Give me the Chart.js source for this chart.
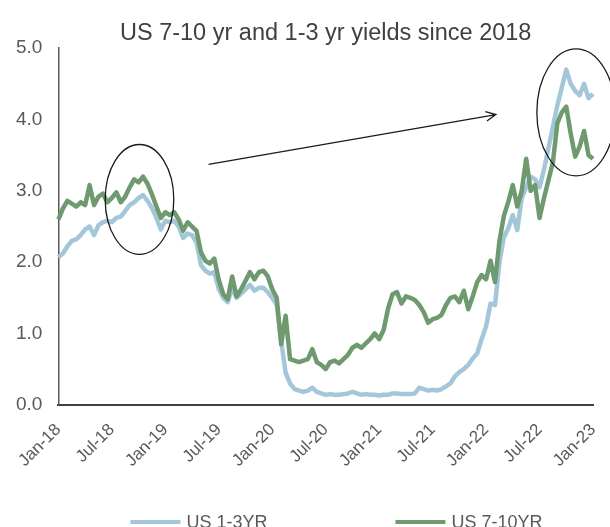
<!DOCTYPE html>
<html>
<head>
<meta charset="utf-8">
<script src="https://cdn.jsdelivr.net/npm/chart.js@4.4.1/dist/chart.umd.min.js"></script>
<style>
  html, body { margin: 0; padding: 0; background: #fff; overflow: hidden; }
</style>
</head>
<body>
<canvas id="yieldChart" width="610" height="527"></canvas>
<script>
// semi-monthly readings, Jan-18 .. Jan-23
const monthNames = ['Jan', 'Feb', 'Mar', 'Apr', 'May', 'Jun', 'Jul', 'Aug', 'Sep', 'Oct', 'Nov', 'Dec'];
const dates = [];
for (let yr = 18; yr <= 22; yr++) {
    for (const mon of monthNames) {
        dates.push(mon + '-' + yr);
        dates.push(mon + '-' + yr);
    }
}
dates.push('Jan-23');

const us13 = [
    2.07, 2.12, 2.22, 2.30, 2.32, 2.38, 2.46, 2.50, 2.38, 2.52, 2.56, 2.58, 2.56, 2.62, 2.64, 2.72, 2.80, 2.84, 2.90, 2.94, 2.86, 2.76, 2.62, 2.46,
    2.58, 2.56, 2.58, 2.50, 2.34, 2.40, 2.38, 2.28, 1.96, 1.88, 1.84, 1.86, 1.62, 1.50, 1.44, 1.64, 1.50, 1.56, 1.62, 1.68, 1.60, 1.64, 1.64, 1.58,
    1.50, 1.40, 0.90, 0.45, 0.30, 0.22, 0.20, 0.18, 0.20, 0.24, 0.18, 0.16, 0.14, 0.15, 0.14, 0.14, 0.15, 0.16, 0.18, 0.16, 0.14, 0.15, 0.14, 0.14,
    0.13, 0.14, 0.14, 0.16, 0.16, 0.15, 0.15, 0.15, 0.16, 0.24, 0.22, 0.20, 0.21, 0.20, 0.22, 0.26, 0.30, 0.40, 0.46, 0.50, 0.56, 0.65, 0.72, 0.92,
    1.10, 1.42, 1.40, 2.00, 2.35, 2.48, 2.66, 2.45, 2.90, 3.05, 3.20, 3.16, 3.05, 3.30, 3.60, 3.90, 4.20, 4.45, 4.70, 4.50, 4.40, 4.34, 4.50, 4.30,
    4.36
];

const us710 = [
    2.60, 2.75, 2.86, 2.82, 2.78, 2.84, 2.80, 3.08, 2.80, 2.92, 2.96, 2.84, 2.90, 2.98, 2.84, 2.92, 3.05, 3.16, 3.12, 3.20, 3.10, 2.95, 2.78, 2.62,
    2.70, 2.66, 2.70, 2.60, 2.44, 2.56, 2.50, 2.44, 2.14, 2.02, 1.98, 2.05, 1.75, 1.55, 1.48, 1.80, 1.52, 1.62, 1.74, 1.86, 1.76, 1.86, 1.88, 1.80,
    1.62, 1.50, 0.85, 1.25, 0.64, 0.62, 0.60, 0.62, 0.64, 0.78, 0.60, 0.56, 0.50, 0.60, 0.62, 0.58, 0.64, 0.70, 0.80, 0.84, 0.80, 0.86, 0.92, 1.00,
    0.92, 1.05, 1.35, 1.55, 1.58, 1.42, 1.52, 1.50, 1.47, 1.40, 1.30, 1.15, 1.20, 1.22, 1.26, 1.40, 1.50, 1.52, 1.44, 1.60, 1.34, 1.52, 1.72, 1.82,
    1.76, 2.02, 1.72, 2.30, 2.65, 2.85, 3.08, 2.78, 3.00, 3.45, 3.00, 3.08, 2.62, 2.90, 3.15, 3.40, 3.95, 4.10, 4.18, 3.80, 3.48, 3.62, 3.84, 3.50,
    3.45
];

const yTicks = [0, 1, 2, 3, 4, 5];

// hand-drawn marks on the original, in data units (x = observation index)
const circles = [
    { x: 18.2, y: 2.88, rx: 7.7, ry: 0.77 },
    { x: 116.2, y: 4.10, rx: 8.8, ry: 0.89 }
];
const arrow = { x0: 33.7, y0: 3.37, x1: 98.2, y1: 4.07 };

const FONT = '"Liberation Sans", Arial, sans-serif';
const TXT = '#595959';

const notesPlugin = {
    id: 'notes',
    afterDatasetsDraw(chart) {
        const { ctx, scales: { x, y } } = chart;
        ctx.save();
        ctx.strokeStyle = '#1a1a1a';
        ctx.lineWidth = 1.3;
        circles.forEach(c => {
            const cx = x.getPixelForValue(c.x);
            const cy = y.getPixelForValue(c.y);
            const rx = Math.abs(x.getPixelForValue(c.x + c.rx) - cx);
            const ry = Math.abs(y.getPixelForValue(c.y + c.ry) - cy);
            ctx.beginPath();
            ctx.ellipse(cx, cy, rx, ry, 0, 0, Math.PI * 2);
            ctx.stroke();
        });
        const ax0 = x.getPixelForValue(arrow.x0), ay0 = y.getPixelForValue(arrow.y0);
        const ax1 = x.getPixelForValue(arrow.x1), ay1 = y.getPixelForValue(arrow.y1);
        const ang = Math.atan2(ay1 - ay0, ax1 - ax0);
        ctx.beginPath();
        ctx.moveTo(ax0, ay0);
        ctx.lineTo(ax1, ay1);
        ctx.moveTo(ax1 - 11 * Math.cos(ang - 0.45), ay1 - 11 * Math.sin(ang - 0.45));
        ctx.lineTo(ax1, ay1);
        ctx.lineTo(ax1 - 11 * Math.cos(ang + 0.45), ay1 - 11 * Math.sin(ang + 0.45));
        ctx.stroke();
        ctx.restore();
    },
    afterDraw(chart) {
        // legend row, spaced like the original (bottom is cut by the frame)
        const { ctx, chartArea } = chart;
        const starts = [chartArea.left + 72, chartArea.left + 337];
        const ly = 522;
        ctx.save();
        ctx.font = '18px ' + FONT;
        ctx.textBaseline = 'middle';
        chart.data.datasets.forEach((ds, i) => {
            const sx = starts[i];
            ctx.strokeStyle = ds.borderColor;
            ctx.lineWidth = 4;
            ctx.beginPath();
            ctx.moveTo(sx, ly);
            ctx.lineTo(sx + 50, ly);
            ctx.stroke();
            ctx.fillStyle = TXT;
            ctx.fillText(ds.label, sx + 56, ly + 1);
        });
        ctx.restore();
    }
};

new Chart(document.getElementById('yieldChart'), {
    type: 'line',
    data: {
        labels: dates,
        datasets: [
            {
                label: 'US 1-3YR',
                data: us13,
                borderColor: '#A3C6D9',
                borderWidth: 4.5,
                pointRadius: 0,
                order: 1
            },
            {
                label: 'US 7-10YR',
                data: us710,
                borderColor: '#6F996F',
                borderWidth: 4.5,
                pointRadius: 0,
                order: 0
            }
        ]
    },
    options: {
        responsive: false,
        animation: false,
        devicePixelRatio: 1,
        borderJoinStyle: 'round',
        layout: { padding: { left: 0, right: 17, top: 0, bottom: 41 } },
        plugins: {
            legend: { display: false },
            tooltip: { enabled: false },
            title: {
                display: true,
                fullSize: false,
                text: 'US 7-10 yr and 1-3 yr yields since 2018',
                color: '#404040',
                font: { family: FONT, size: 23.5, weight: 'normal' },
                padding: { top: 19, bottom: 1 }
            }
        },
        scales: {
            x: {
                grid: { display: false, drawTicks: false },
                border: { color: '#404040', width: 2 },
                afterFit: axis => { axis.paddingLeft = 0; axis.paddingRight = 0; },
                ticks: {
                    autoSkip: false,
                    maxRotation: 45,
                    minRotation: 45,
                    color: TXT,
                    padding: 15,
                    font: { family: FONT, size: 17 },
                    callback: (v, i) => (i % 12 === 0 ? dates[i] : null)
                }
            },
            y: {
                min: yTicks[0],
                max: yTicks[yTicks.length - 1],
                afterBuildTicks: axis => { axis.ticks = yTicks.map(v => ({ value: v })); },
                grid: { display: false, drawTicks: false },
                border: { color: '#595959', width: 1.5 },
                ticks: {
                    color: TXT,
                    padding: 16,
                    font: { family: FONT, size: 19 },
                    callback: v => v.toFixed(1)
                }
            }
        }
    },
    plugins: [notesPlugin]
});
</script>
</body>
</html>
